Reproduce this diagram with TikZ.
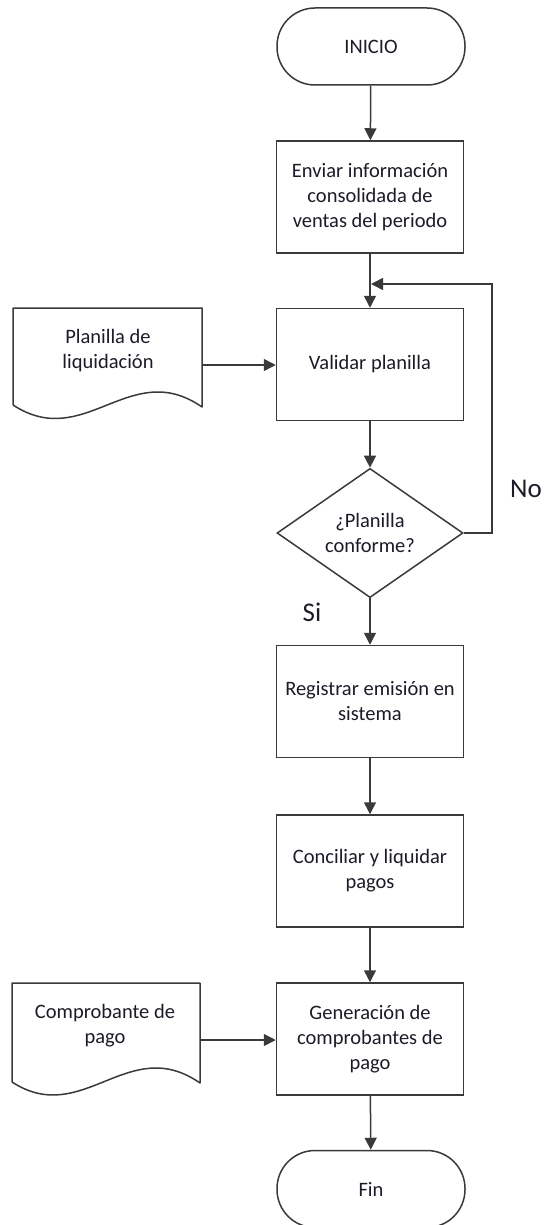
\documentclass[tikz,border=0pt]{standalone}
\usepackage{fontspec}
\setmainfont{Carlito}
\usetikzlibrary{arrows.meta,shapes.geometric,calc}

\definecolor{linegray}{HTML}{3A3A3A}
\definecolor{txt}{HTML}{1C1C28}

\tikzset{
  base/.style={draw=linegray, line width=1.5pt, fill=white, text=txt,
    font=\fontsize{20.5}{25}\selectfont, align=center, inner sep=0pt},
  terminal/.style={base, rectangle, rounded corners=38pt,
    minimum width=188pt, minimum height=77pt},
  process/.style={base, rectangle, minimum width=187pt, minimum height=112pt},
  decision/.style={base, diamond, minimum width=186pt, minimum height=110pt},
  doctext/.style={text=txt, font=\fontsize{20.5}{25}\selectfont, align=center, inner sep=0pt},
  docline/.style={draw=linegray, line width=1.5pt, fill=white, line join=round},
  flow/.style={draw=linegray, line width=1.5pt,
    -{Triangle[width=12pt,length=12pt]}},
  branch/.style={text=txt, font=\fontsize{27}{32}\selectfont, inner sep=0pt},
}

\begin{document}
\begin{tikzpicture}[x=1pt,y=-1pt]
\useasboundingbox (0,0) rectangle (544,1225);

% main column
\node[terminal] (inicio) at (371,46.5) {INICIO};
\node[process]  (enviar) at (370,197) {Enviar información\\consolidada de\\ventas del periodo};
\node[process]  (validar) at (370,364.5) {Validar planilla};
\node[decision] (conforme) at (370,533) {¿Planilla\\conforme?};
\node[process]  (registrar) at (370,701.5) {Registrar emisión en\\sistema};
\node[process]  (conciliar) at (370,871) {Conciliar y liquidar\\pagos};
\node[process]  (generar) at (370,1039) {Generación de\\comprobantes de\\pago};
\node[terminal] (fin) at (371,1189) {Fin};

% input documents
\draw[docline] (13,405) -- (13,308) -- (202,308) -- (202,407)
  .. controls (130,357) and (85,452) .. (13,405);
\node[doctext] (planilla) at (108,351) {Planilla de\\liquidación};
\coordinate (planillaout) at (202,365);

\draw[docline] (12,1082) -- (12,983) -- (200,983) -- (200,1083)
  .. controls (128,1033) and (83,1128) .. (12,1082);
\node[doctext] (comprobante) at (105,1026) {Comprobante de\\pago};
\coordinate (comprobanteout) at (200,1040);

% connectors
\draw[flow] (inicio) -- (enviar);
\draw[flow] (enviar) -- (validar);
\draw[flow] (validar) -- (conforme);
\draw[flow] (conforme) -- (registrar);
\draw[flow] (registrar) -- (conciliar);
\draw[flow] (conciliar) -- (generar);
\draw[flow] (generar) -- (fin);
\draw[flow] (planillaout) -- (validar.west |- planillaout);
\draw[flow] (comprobanteout) -- (generar.west |- comprobanteout);

% rejection loop back above the validation step
\coordinate (loopcorner) at (492,284);
\coordinate (loopin) at (371,284);
\draw[flow] (conforme.east) -| (loopcorner) -- (loopin);

% branch labels
\node[branch, anchor=west] (nolabel) at (510,489) {No};
\node[branch] (silabel) at (312,612) {Si};
\end{tikzpicture}
\end{document}
